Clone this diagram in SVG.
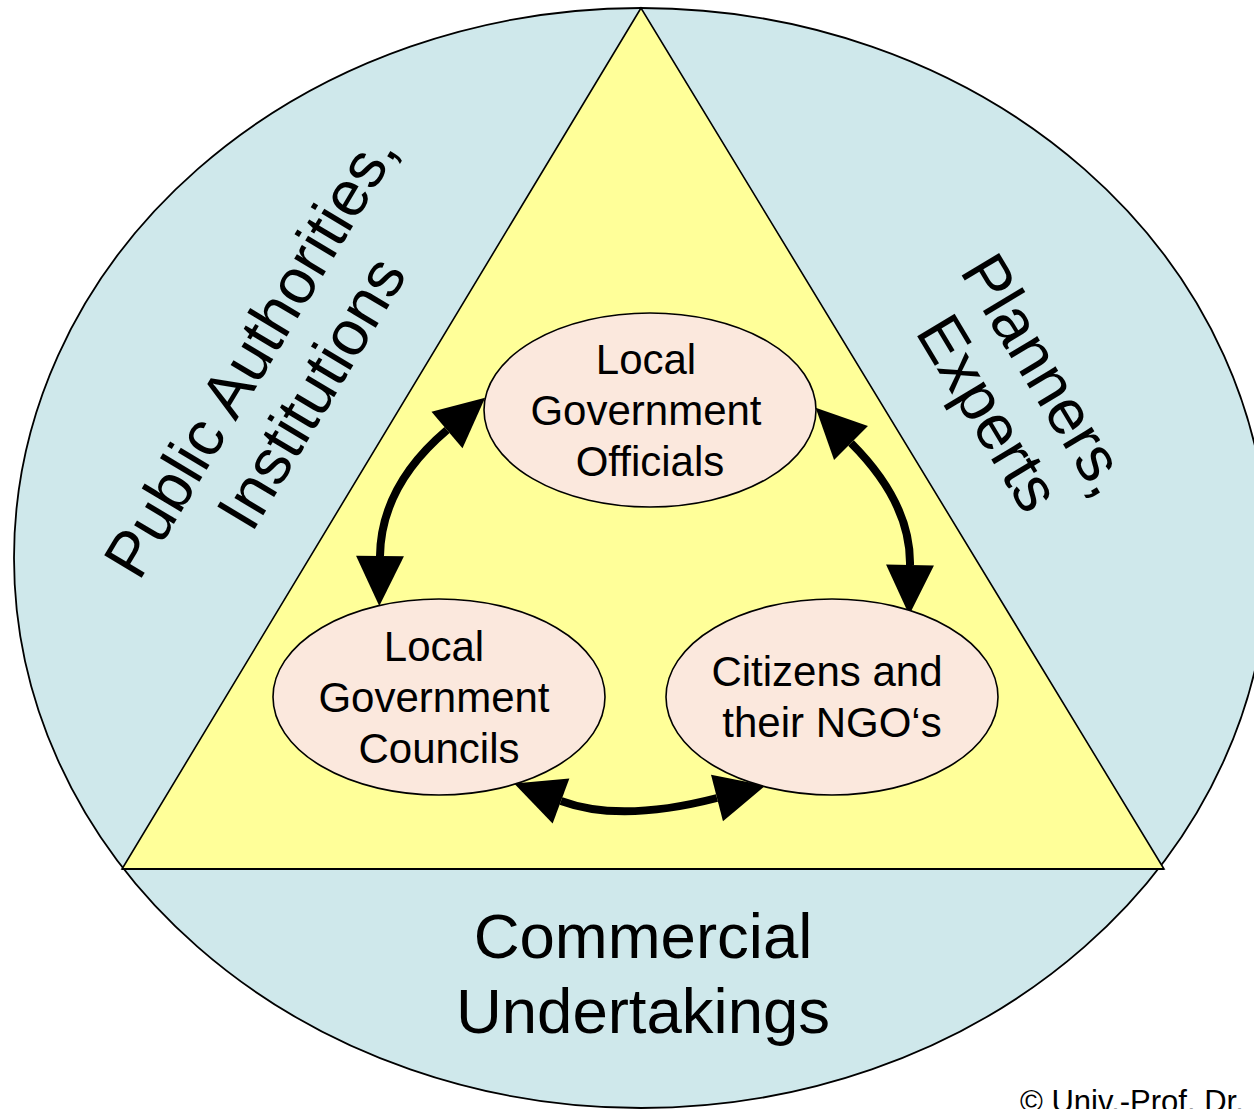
<svg xmlns="http://www.w3.org/2000/svg" width="1254" height="1109" viewBox="0 0 1254 1109">
<style>
  .lbl { font-family: "Liberation Sans", Arial, sans-serif; fill: #000; text-anchor: middle; }
  .big { font-size: 63.5px; }
  .node-text { font-size: 42px; }
  .node { fill: #fbe8dd; stroke: #000; stroke-width: 1.6; }
  .conn { fill: none; stroke: #000; stroke-width: 8; marker-start: url(#head); marker-end: url(#head); }
</style>
<defs>
  <marker id="head" markerUnits="userSpaceOnUse" markerWidth="50" markerHeight="50" viewBox="0 -24 48 48" refX="0" refY="0" orient="auto-start-reverse" overflow="visible">
    <path d="M0,-23 L48,0 L0,23 Z" fill="#000"/>
  </marker>
</defs>
<rect x="0" y="0" width="1254" height="1109" fill="#ffffff"/>

<g id="outer-circle">
  <ellipse cx="641" cy="558" rx="627" ry="550" fill="#cfe8eb" stroke="#000" stroke-width="1.8"/>
</g>
<g id="triangle">
  <polygon points="641,8 122,869 1164,869" fill="#ffff99" stroke="#000" stroke-width="1.6" stroke-linejoin="miter"/>
  <line x1="122" y1="869" x2="1164" y2="869" stroke="#000" stroke-width="2.2"/>
</g>

<g id="label-public-authorities">
  <text class="lbl big" transform="translate(269,366) rotate(-59)">Public Authorities,</text>
  <text class="lbl big" transform="translate(330,404) rotate(-59)">Institutions</text>
</g>
<g id="label-planners">
  <text class="lbl big" transform="translate(1028,386) rotate(59)">Planners,</text>
  <text class="lbl big" transform="translate(970,424) rotate(59)">Experts</text>
</g>
<g id="label-commercial">
  <text class="lbl big" x="643" y="958">Commercial</text>
  <text class="lbl big" x="643" y="1033">Undertakings</text>
</g>

<g id="connectors">
  <path class="conn" d="M447,430 Q381,486 380,556"/>
  <path class="conn" d="M851,443 Q911,503 910,565"/>
  <path class="conn" d="M561,801 Q620,823 717,798"/>
</g>

<g id="node-officials">
  <ellipse class="node" cx="650" cy="410" rx="166" ry="97"/>
  <text class="lbl node-text" x="646" y="374">Local</text>
  <text class="lbl node-text" x="646" y="425">Government</text>
  <text class="lbl node-text" x="650" y="476">Officials</text>
</g>
<g id="node-councils">
  <ellipse class="node" cx="439" cy="697" rx="166" ry="98"/>
  <text class="lbl node-text" x="434" y="661">Local</text>
  <text class="lbl node-text" x="434" y="712">Government</text>
  <text class="lbl node-text" x="439" y="763">Councils</text>
</g>
<g id="node-citizens">
  <ellipse class="node" cx="832" cy="697" rx="166" ry="98"/>
  <text class="lbl node-text" x="827" y="686">Citizens and</text>
  <text class="lbl node-text" x="832" y="737">their NGO‘s</text>
</g>

<g id="copyright">
  <text class="lbl" x="1020" y="1112" style="text-anchor:start;font-size:31px">© Univ.-Prof. Dr.</text>
</g>
</svg>
